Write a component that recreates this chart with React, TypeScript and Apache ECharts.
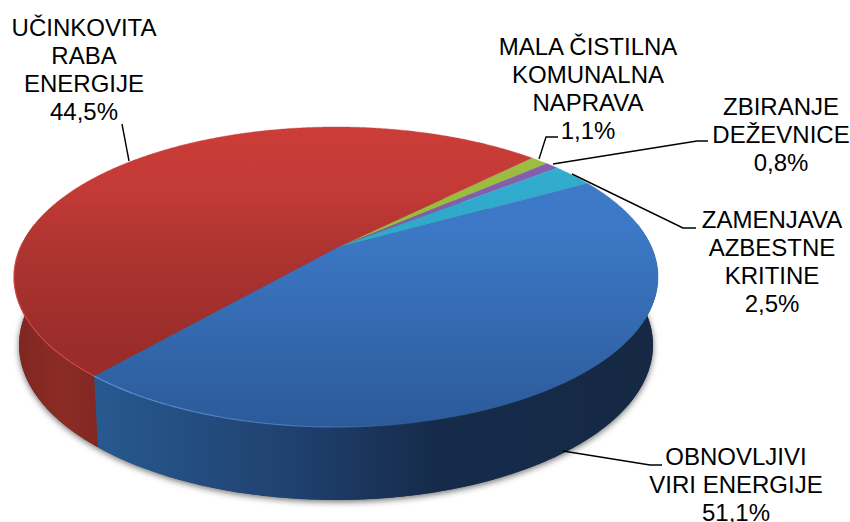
import React, { useEffect, useRef } from "react";
import * as echarts from "echarts";

// Slices clockwise from the green one. Shares are the sizes measured on the drawing;
// the reference's printed percentages (below) have the blue and red figures the other way round.
const sliceNames = [
  "MALA ČISTILNA\nKOMUNALNA\nNAPRAVA",
  "ZBIRANJE\nDEŽEVNICE",
  "ZAMENJAVA\nAZBESTNE\nKRITINE",
  "OBNOVLJIVI\nVIRI ENERGIJE",
  "UČINKOVITA\nRABA\nENERGIJE",
];
const sliceShares = [1.1, 0.8, 2.5, 44.5, 51.1];
const printedPercents = ["1,1%", "0,8%", "2,5%", "51,1%", "44,5%"];

const FONT = '"Liberation Sans", Arial, sans-serif';
const START_DEG = 44.8;
const TILT = -0.193;
const TOP = { cx: 336, cy: 277, rx: 322, ry: 150 };
const BOTTOM = { cx: 336, cy: 345, rx: 317, ry: 155 };

const topStops: any[][] = [
  [[0, "#9DBE41"], [1, "#93B53B"]],
  [[0, "#8460AE"], [1, "#7A57A2"]],
  [[0, "#31AFD2"], [1, "#2E9DBA"]],
  [[0, "#3F7CC9"], [0.35, "#3C78C5"], [1, "#2B5A99"]],
  [[0, "#CB3D39"], [0.21, "#C33A36"], [0.41, "#AD3431"], [0.71, "#9B2D2A"], [1, "#962C29"]],
];
const blueWallStops = [[0, "#28598F"], [0.35, "#1F416F"], [0.6, "#162B4A"], [1, "#152945"]];
const redWallStops = [[0, "#7E2620"], [0.5, "#8C2B26"], [1, "#7E2620"]];

function project(deg: number, e: typeof TOP): number[] {
  const a = (deg * Math.PI) / 180;
  const x = Math.sin(a);
  const y = -Math.cos(a);
  const d = 1 + TILT * y;
  return [e.cx + (e.rx * x * Math.sqrt(1 - TILT * TILT)) / d, e.cy + (e.ry * (y + TILT)) / d];
}

function sliceRange(i: number): number[] {
  const total = sliceShares.reduce((s, v) => s + v, 0);
  const before = sliceShares.slice(0, i).reduce((s, v) => s + v, 0);
  const a = START_DEG + (before / total) * 360;
  return [a, a + (sliceShares[i] / total) * 360];
}

function arc(a: number, b: number, e: typeof TOP): number[][] {
  const pts: number[][] = [];
  const n = Math.max(2, Math.ceil((b - a) * 2));
  for (let k = 0; k <= n; k++) pts.push(project(a + ((b - a) * k) / n, e));
  return pts;
}

const G = (x: number, y: number, x2: number, y2: number, stops: any[]) =>
  new (echarts.graphic as any).LinearGradient(
    x, y, x2, y2,
    stops.map(([offset, color]: any) => ({ offset, color })),
    true,
  );

const renderTop = (params: any) => {
  const i = params.dataIndex;
  const [a, b] = sliceRange(i);
  const apex = [TOP.cx, TOP.cy + TOP.ry * TILT];
  const fill = G(0, TOP.cy - TOP.ry, 0, TOP.cy + TOP.ry, topStops[i]);
  return {
    type: "polygon",
    shape: { points: [apex, ...arc(a, b, TOP)] },
    style: { fill, stroke: fill, lineWidth: 0.4 },
  };
};

const renderWall = (params: any) => {
  const i = params.dataIndex;
  if (i < 3) return null;
  const [a0, b0] = sliceRange(i);
  const a = Math.max(a0, 80);
  const b = Math.min(b0, 280);
  if (b <= a) return null;
  const pts = [...arc(a, b, TOP), ...arc(a, b, BOTTOM).reverse()];
  const fill = i === 3 ? G(96, 0, 660, 0, blueWallStops) : G(14, 0, 110, 0, redWallStops);
  return { type: "polygon", shape: { points: pts }, style: { fill } };
};

const renderRim = (params: any) => {
  const i = params.dataIndex;
  if (i < 3) return null;
  const [a0, b0] = sliceRange(i);
  const a = Math.max(a0, i === 3 ? 150 : 0);
  const b = Math.min(b0, 272);
  const stroke =
    i === 3
      ? G(96, 0, 430, 0, [[0, "rgba(96,150,220,0.9)"], [0.7, "rgba(80,135,205,0.6)"], [1, "rgba(60,110,180,0)"]])
      : "rgba(214,78,70,0.85)";
  return {
    type: "polyline",
    shape: { points: arc(a, b, TOP) },
    style: { fill: "none", stroke, lineWidth: 1.2 },
  };
};

const labelSpots = [
  { x: 588, y: 32 },
  { x: 781, y: 92 },
  { x: 772, y: 205 },
  { x: 736, y: 442 },
  { x: 84, y: 13 },
];
const leaders = [
  [[539, 159], [546, 137], [558, 137]],
  [[553, 164], [697, 141], [708, 141]],
  [[572, 174], [683, 228], [696, 228]],
  [[563, 451], [650, 465], [662, 465]],
  [[122, 124], [129, 161]],
];

export default function App() {
  const ref = useRef<HTMLDivElement>(null);
  useEffect(() => {
    const chart = echarts.init(ref.current!, undefined, { renderer: "svg" });
    chart.setOption({
      animation: false,
      backgroundColor: "#ffffff",
      graphic: [
        {
          type: "ellipse",
          z: 0,
          shape: { cx: BOTTOM.cx, cy: BOTTOM.cy, rx: BOTTOM.rx, ry: BOTTOM.ry },
          style: {
            fill: "#444",
            shadowBlur: 6,
            shadowColor: "rgba(0,0,0,0.55)",
            shadowOffsetX: 0,
            shadowOffsetY: 2,
          },
        },
        ...leaders.map((points) => ({
          type: "polyline",
          z: 20,
          shape: { points },
          style: { fill: "none", stroke: "#000", lineWidth: 1.4 },
        })),
        ...sliceNames.map((name, i) => ({
          type: "text",
          z: 20,
          x: labelSpots[i].x,
          y: labelSpots[i].y,
          style: {
            text: name + "\n" + printedPercents[i],
            font: `24px ${FONT}`,
            lineHeight: 28,
            fill: "#000",
            align: "center",
            verticalAlign: "top",
          },
        })),
      ],
      series: [
        { type: "custom", coordinateSystem: "none", z: 2, silent: true, data: sliceShares, renderItem: renderWall },
        { type: "custom", coordinateSystem: "none", z: 3, silent: true, data: sliceShares, renderItem: renderTop },
        { type: "custom", coordinateSystem: "none", z: 4, silent: true, data: sliceShares, renderItem: renderRim },
      ],
    });
    return () => chart.dispose();
  }, []);
  return <div ref={ref} style={{ position: "fixed", left: 0, top: 0, width: 850, height: 522 }} />;
}
